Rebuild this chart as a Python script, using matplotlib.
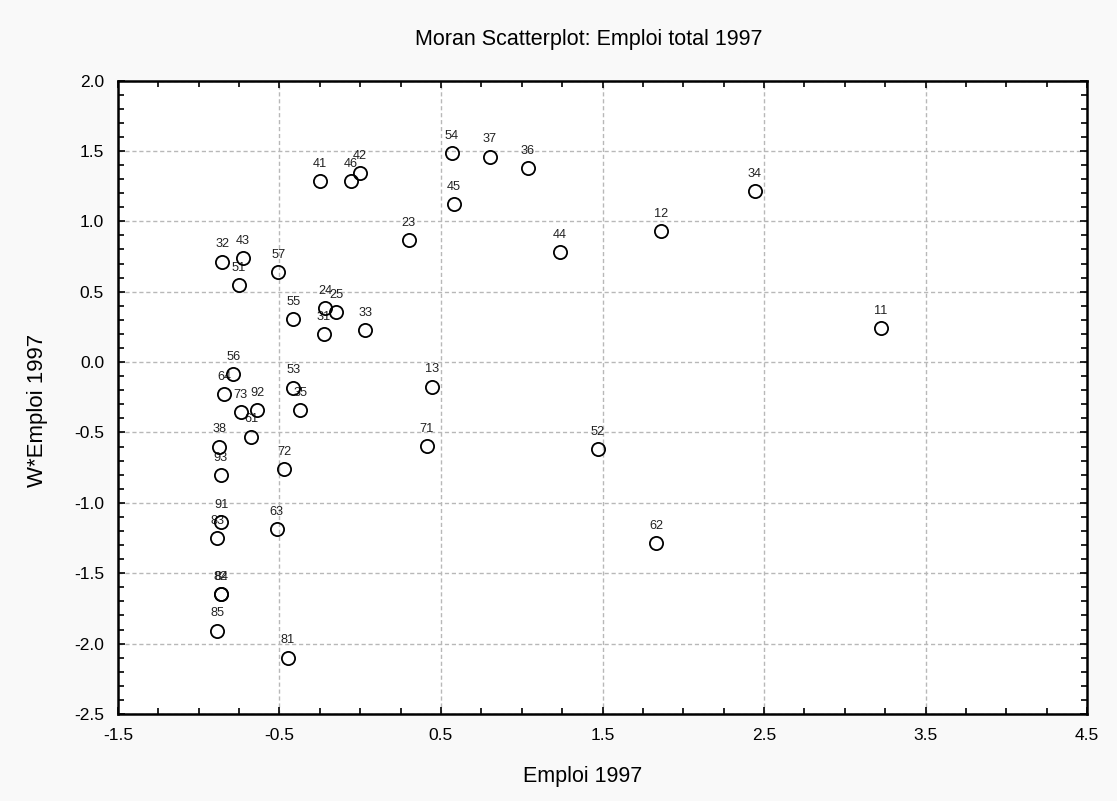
import matplotlib
matplotlib.use('Agg')
import matplotlib.pyplot as plt
from matplotlib.ticker import MultipleLocator

plt.rcParams['font.family'] = ['Liberation Sans', 'DejaVu Sans']

# region codes, Emploi 1997 (x) and its spatial lag W*Emploi 1997 (y)
labels = ['11', '34', '12', '62', '52', '44', '36', '37', '54', '45', '23',
          '41', '46', '42', '32', '43', '51', '57', '55', '24', '25', '31',
          '33', '56', '64', '73', '92', '53', '35', '61', '38', '93', '72',
          '91', '83', '82', '84', '85', '63', '81', '13', '71']
emploi = [3.224, 2.444, 1.862, 1.831, 1.472, 1.237, 1.037, 0.801, 0.566, 0.580, 0.300,
          -0.249, -0.057, -0.002, -0.854, -0.728, -0.751, -0.507, -0.414, -0.216, -0.148, -0.226,
          0.031, -0.786, -0.842, -0.740, -0.637, -0.414, -0.371, -0.676, -0.873, -0.864, -0.472,
          -0.862, -0.885, -0.862, -0.862, -0.885, -0.517, -0.449, 0.442, 0.411]
w_emploi = [0.243, 1.216, 0.932, -1.284, -0.616, 0.781, 1.381, 1.460, 1.484, 1.124, 0.868,
            1.289, 1.289, 1.346, 0.714, 0.742, 0.548, 0.638, 0.305, 0.387, 0.357, 0.200,
            0.227, -0.082, -0.224, -0.352, -0.339, -0.181, -0.339, -0.529, -0.600, -0.801, -0.761,
            -1.135, -1.251, -1.648, -1.648, -1.907, -1.187, -2.099, -0.174, -0.595]

fig = plt.figure(figsize=(11.17, 8.01), dpi=100, facecolor='#f9f9f9')
ax = fig.add_axes([0.1056, 0.1086, 0.8676, 0.7908])
ax.set_facecolor('white')

ax.plot(emploi, w_emploi, 'o', mfc='none', mec='black', ms=9.5, mew=1.3, zorder=3)
for lab, x, y in zip(labels, emploi, w_emploi):
    ax.annotate(lab, (x, y), xytext=(0, 8), textcoords='offset points',
                ha='center', va='bottom', fontsize=9.2, color='#222222', zorder=2)

ax.set_xlim(-1.5, 4.5)
ax.set_ylim(-2.5, 2.0)
ax.xaxis.set_major_locator(MultipleLocator(1.0, offset=0.5))
ax.xaxis.set_minor_locator(MultipleLocator(0.25))
ax.yaxis.set_major_locator(MultipleLocator(0.5))
ax.yaxis.set_minor_locator(MultipleLocator(0.1))
ax.xaxis.set_major_formatter(plt.FormatStrFormatter('%.1f'))
ax.yaxis.set_major_formatter(plt.FormatStrFormatter('%.1f'))

ax.tick_params(which='both', direction='in', top=True, right=True, width=1.2, labelsize=12.5)
ax.tick_params(axis='x', pad=10)
ax.tick_params(axis='y', pad=10)
ax.tick_params(which='major', length=5)
ax.tick_params(which='minor', length=4)
for s in ax.spines.values():
    s.set_linewidth(1.8)

ax.grid(True, which='major', linestyle=(0, (3, 2)), color='#b8b8b8', linewidth=1.0)
ax.set_axisbelow(True)

fig.text(0.527, 0.951, 'Moran Scatterplot: Emploi total 1997', ha='center', va='center', fontsize=15.5)
fig.text(0.522, 0.031, 'Emploi 1997', ha='center', va='center', fontsize=15.5)
fig.text(0.034, 0.488, 'W*Emploi 1997', ha='center', va='center', rotation=90, fontsize=16)

fig.savefig('out.png', dpi=100, facecolor=fig.get_facecolor())
